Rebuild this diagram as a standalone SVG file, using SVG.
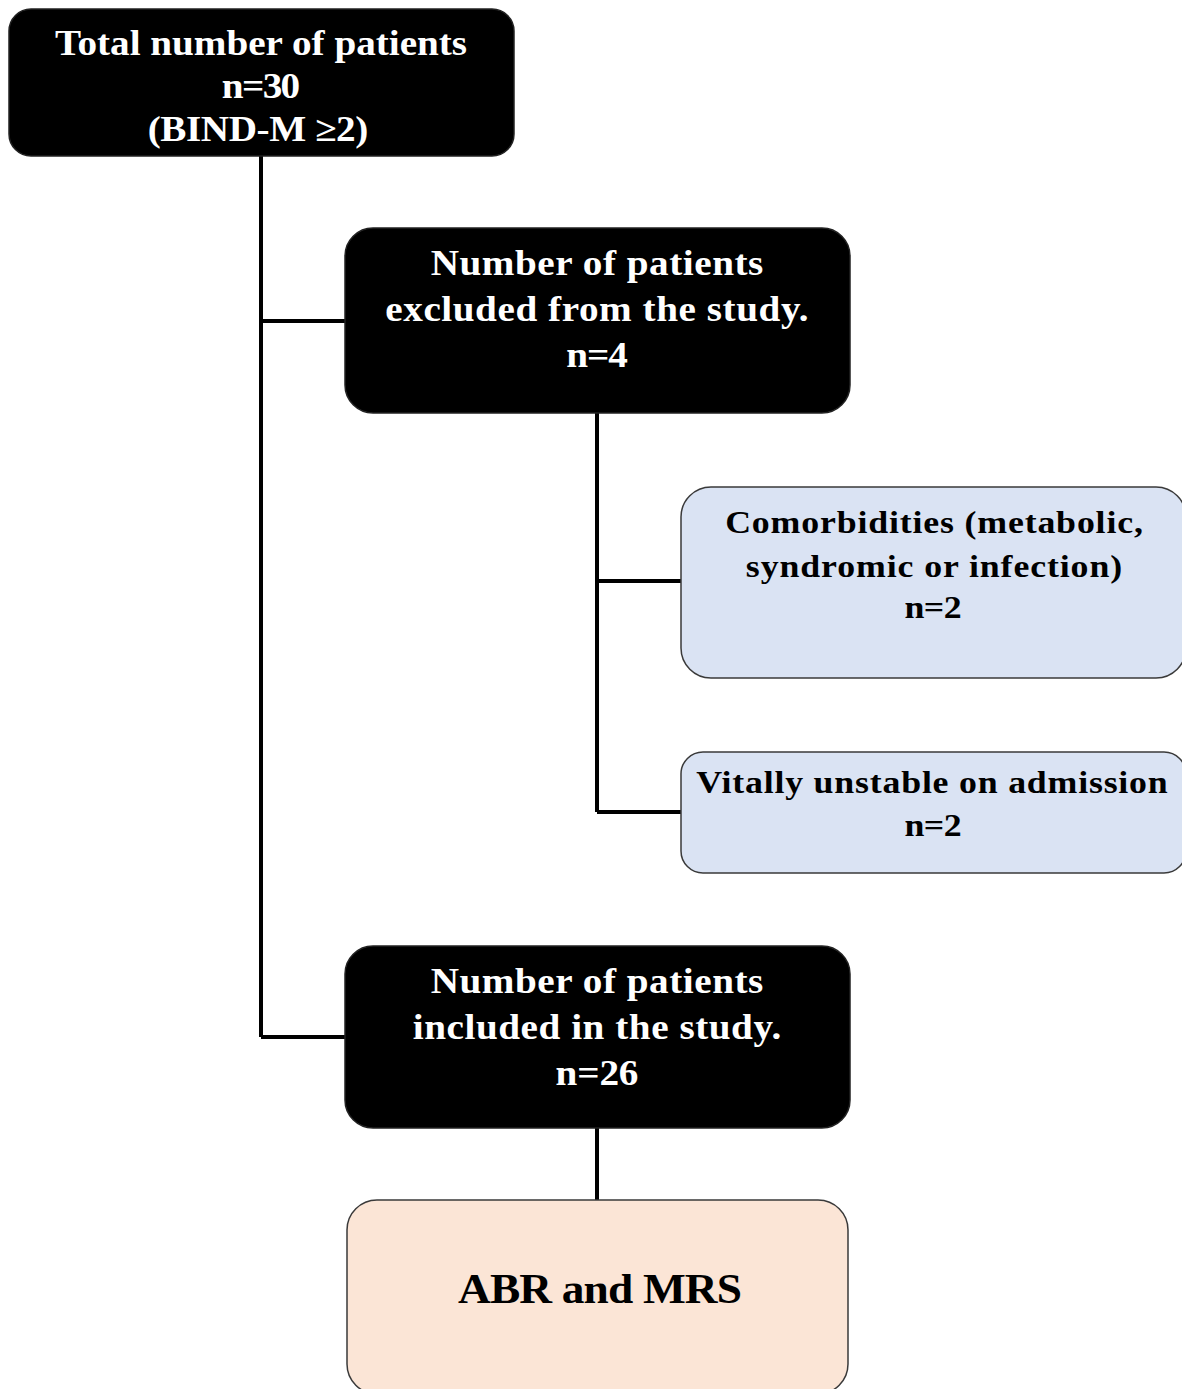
<svg xmlns="http://www.w3.org/2000/svg" width="1182" height="1389" viewBox="0 0 1182 1389">
<style>
text{font-family:"Liberation Serif","Times New Roman",serif;font-weight:bold;text-anchor:middle}
.dark rect{fill:#000;stroke:#222;stroke-width:1.5}
.dark text{fill:#fff;font-size:35px}
.blue rect{fill:#dae3f3;stroke:#3a3a3a;stroke-width:1.5}
.blue text{fill:#000;font-size:32px}
.peach rect{fill:#fbe5d6;stroke:#3a3a3a;stroke-width:1.5}
.peach text{fill:#000;font-size:42px}
.conn path{fill:none;stroke:#000;stroke-width:4}
</style>
<rect width="1182" height="1389" fill="#fff"/>
<g id="connectors" class="conn">
<path d="M261,156 V1037 M261,321 H345 M261,1037 H345"/>
<path d="M597,413 V812 M597,581 H681 M597,812 H681"/>
<path d="M597,1128 V1200"/>
</g>
<g id="total" class="dark">
<rect x="9" y="9" width="505" height="147" rx="22"/>
<text transform="translate(261,55) scale(1.12,1)" textLength="368" lengthAdjust="spacing">Total number of patients</text>
<text transform="translate(261,98) scale(1.12,1)" textLength="70" lengthAdjust="spacing">n=30</text>
<text transform="translate(258,141) scale(1.12,1)" textLength="197" lengthAdjust="spacing">(BIND-M ≥2)</text>
</g>
<g id="excluded" class="dark">
<rect x="345" y="228" width="505" height="185" rx="28"/>
<text transform="translate(597,275) scale(1.12,1)" textLength="297" lengthAdjust="spacing">Number of patients</text>
<text transform="translate(597,321) scale(1.12,1)" textLength="378" lengthAdjust="spacing">excluded from the study.</text>
<text transform="translate(597,367) scale(1.12,1)" textLength="55" lengthAdjust="spacing">n=4</text>
</g>
<g id="comorbidities" class="blue">
<rect x="681" y="487" width="505" height="191" rx="30"/>
<text transform="translate(934,533) scale(1.12,1)" textLength="373" lengthAdjust="spacing">Comorbidities (metabolic,</text>
<text transform="translate(934,577) scale(1.12,1)" textLength="336" lengthAdjust="spacing">syndromic or infection)</text>
<text transform="translate(933,618) scale(1.12,1)" textLength="51" lengthAdjust="spacing">n=2</text>
</g>
<g id="unstable" class="blue">
<rect x="681" y="752" width="505" height="121" rx="22"/>
<text transform="translate(932,793) scale(1.12,1)" textLength="421" lengthAdjust="spacing">Vitally unstable on admission</text>
<text transform="translate(933,836) scale(1.12,1)" textLength="51" lengthAdjust="spacing">n=2</text>
</g>
<g id="included" class="dark">
<rect x="345" y="946" width="505" height="182" rx="28"/>
<text transform="translate(597,993) scale(1.12,1)" textLength="297" lengthAdjust="spacing">Number of patients</text>
<text transform="translate(597,1039) scale(1.12,1)" textLength="329" lengthAdjust="spacing">included in the study.</text>
<text transform="translate(597,1085) scale(1.12,1)" textLength="74" lengthAdjust="spacing">n=26</text>
</g>
<g id="abr" class="peach">
<rect x="347" y="1200" width="501" height="194" rx="30"/>
<text transform="translate(600,1303) scale(1.08,1)" textLength="263" lengthAdjust="spacing">ABR and MRS</text>
</g>
</svg>
